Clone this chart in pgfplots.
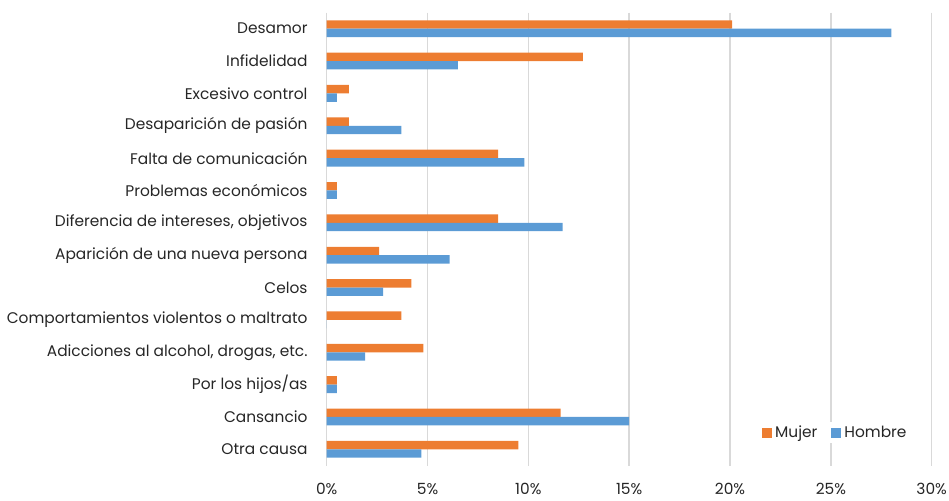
\documentclass[border=0pt]{standalone}
\usepackage{pgfplots}
\pgfplotsset{compat=1.18}
\usepackage{fontspec}
\setmainfont{Poppins}
\definecolor{mujer}{HTML}{ED7D31}
\definecolor{hombre}{HTML}{5B9BD5}
\definecolor{gridc}{HTML}{D9D9D9}
\begin{document}
\begin{tikzpicture}
\path[use as bounding box] (-326.7pt,-34.5pt) rectangle (622.3pt,465.5pt);
\begin{axis}[
  at={(0pt,0pt)}, anchor=south west,
  scale only axis, width=605pt, height=453pt,
  xmin=0, xmax=30, ymin=-0.5, ymax=13.5, y dir=reverse,
  axis line style={draw=none},
  tick style={draw=none}, major tick length=0pt,
  xmajorgrids, grid style={gridc, line width=1.5pt},
  xtick={0,5,10,15,20,25,30},
  xticklabels={0\%,5\%,10\%,15\%,20\%,25\%,30\%},
  ytick={0,...,13},
  yticklabels={Desamor,Infidelidad,Excesivo control,Desaparición de pasión,Falta de comunicación,Problemas económicos,{Diferencia de intereses, objetivos},Aparición de una nueva persona,Celos,Comportamientos violentos o maltrato,{Adicciones al alcohol, drogas, etc.},Por los hijos/as,Cansancio,Otra causa},
  tick label style={font=\fontsize{15.4}{18}\selectfont, text=black!85},
  yticklabel style={inner sep=0pt, xshift=-19pt},
  xticklabel style={inner sep=0pt, yshift=-17.5pt},
  legend style={at={(0.967,0.072)}, anchor=east, draw=none, fill=white,
    font=\fontsize{15.4}{18}\selectfont, text=black!85, legend columns=2,
    /tikz/every odd column/.append style={column sep=1pt},
    /tikz/every even column/.append style={column sep=12pt}},
  legend image code/.code={\fill[#1] (0pt,-5pt) rectangle (10pt,5pt);},
  clip=false,
]
\addplot[xbar, bar width=8.4pt, bar shift=4.2pt, fill=mujer, draw=none] coordinates {
(20.1,0) (12.7,1) (1.1,2) (1.1,3) (8.5,4) (0.5,5) (8.5,6) (2.6,7) (4.2,8) (3.7,9) (4.8,10) (0.5,11) (11.6,12) (9.5,13)};
\addlegendentry{Mujer}
\addplot[xbar, bar width=8.4pt, bar shift=-4.2pt, fill=hombre, draw=none] coordinates {
(28.0,0) (6.5,1) (0.5,2) (3.7,3) (9.8,4) (0.5,5) (11.7,6) (6.1,7) (2.8,8) (0,9) (1.9,10) (0.5,11) (15.0,12) (4.7,13)};
\addlegendentry{Hombre}
\end{axis}
\end{tikzpicture}
\end{document}
